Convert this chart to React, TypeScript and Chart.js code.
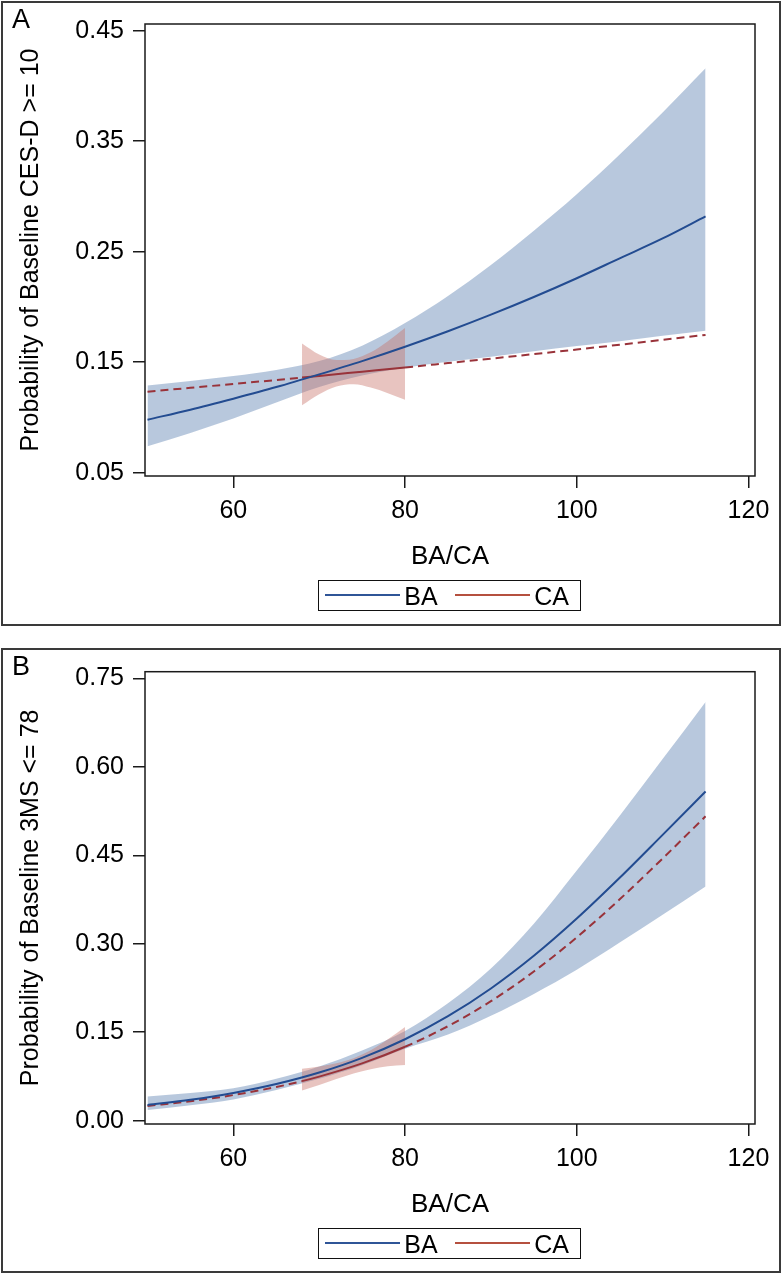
import React, { useEffect, useRef } from "react";
import { Chart, registerables } from "chart.js";

Chart.register(...registerables);

// ---------- data ----------
const BA_X = [50, 55, 60, 65, 70, 75, 80, 85, 90, 95, 100, 105, 110, 115];
const CA_X = [50, 55, 60, 65, 68, 70, 75, 80, 85, 90, 95, 100, 105, 110, 115];
const CA_BAND_X = [68, 70, 72, 74, 76, 78, 80];
const X_TICKS = [60, 80, 100, 120];

// Panel A: CES-D >= 10
const A_Y_TICKS = [0.05, 0.15, 0.25, 0.35, 0.45];
const A_BA = [0.098, 0.107, 0.117, 0.1275, 0.139, 0.151, 0.164, 0.178, 0.193, 0.209, 0.226, 0.244, 0.262, 0.282];
const A_BA_UP = [0.129, 0.133, 0.1375, 0.143, 0.151, 0.165, 0.1855, 0.21, 0.238, 0.269, 0.302, 0.338, 0.376, 0.416];
const A_BA_LO = [0.074, 0.086, 0.099, 0.1135, 0.1275, 0.138, 0.145, 0.1505, 0.155, 0.16, 0.1646, 0.169, 0.174, 0.1785];
const A_CA = [0.1233, 0.1268, 0.1303, 0.1339, 0.1361, 0.1376, 0.1414, 0.1452, 0.1492, 0.1532, 0.1573, 0.1615, 0.1658, 0.1702, 0.1747];
const A_CA_UP = [0.167, 0.157, 0.152, 0.153, 0.159, 0.169, 0.181];
const A_CA_LO = [0.111, 0.121, 0.128, 0.13, 0.127, 0.122, 0.116];

// Panel B: 3MS <= 78
const B_Y_TICKS = [0.0, 0.15, 0.3, 0.45, 0.6, 0.75];
const B_BA = [0.0266, 0.0354, 0.047, 0.0621, 0.0816, 0.1066, 0.1381, 0.1771, 0.2242, 0.2796, 0.3427, 0.4118, 0.4846, 0.558];
const B_BA_UP = [0.041, 0.047, 0.055, 0.071, 0.092, 0.119, 0.152, 0.199, 0.258, 0.334, 0.424, 0.517, 0.613, 0.71];
const B_BA_LO = [0.018, 0.026, 0.036, 0.052, 0.071, 0.094, 0.122, 0.146, 0.178, 0.215, 0.256, 0.302, 0.349, 0.397];
const B_CA = [0.025, 0.033, 0.0435, 0.0571, 0.0671, 0.0747, 0.0971, 0.1253, 0.1602, 0.2026, 0.2529, 0.3108, 0.3753, 0.4445, 0.516];
const B_CA_UP = [0.088, 0.092, 0.0974, 0.106, 0.1195, 0.138, 0.159];
const B_CA_LO = [0.051, 0.0604, 0.0705, 0.08, 0.0872, 0.0923, 0.0944];

// ---------- styles ----------
const FONT = "'Liberation Sans', Arial, Helvetica, sans-serif";
const BLUE_LINE = "#234C91";
const RED_LINE = "#99333A";
const BLUE_BAND = "rgba(113,145,187,0.5)";
const PINK_BAND = "rgba(199,111,101,0.41)";
const LEG_BLUE = "#2F5597";
const LEG_RED = "#B5503F";

const CANVAS_H = 625;
const TICK_SIZE = 25;
const XTITLE_SIZE = 26;

const PANELS = [
  {
    letter: "A",
    top: 0,
    plotTop: 24,
    plotBottom: 476,
    frameTop: 1,
    yTitle: "Probability of Baseline CES-D >= 10",
    yMin: 0.047,
    yMax: 0.4561,
    yTicks: A_Y_TICKS,
    ba: A_BA, baUp: A_BA_UP, baLo: A_BA_LO,
    ca: A_CA, caUp: A_CA_UP, caLo: A_CA_LO,
  },
  {
    letter: "B",
    top: 647,
    plotTop: 24.7,
    plotBottom: 477,
    frameTop: 648,
    yTitle: "Probability of Baseline 3MS <= 78",
    yMin: -0.0056,
    yMax: 0.7612,
    yTicks: B_Y_TICKS,
    ba: B_BA, baUp: B_BA_UP, baLo: B_BA_LO,
    ca: B_CA, caUp: B_CA_UP, caLo: B_CA_LO,
  },
];

const pts = (xs: number[], ys: number[]) => xs.map((x, i) => ({ x, y: ys[i] }));

const framePlugin = {
  id: "frame",
  afterDraw(chart: any) {
    const { ctx, chartArea: a } = chart;
    ctx.save();
    ctx.strokeStyle = "#1a1a1a";
    ctx.lineWidth = 1.5;
    ctx.strokeRect(a.left, a.top, a.right - a.left, a.bottom - a.top);
    ctx.restore();
  },
};

function Panel({ p }: { p: any }) {
  const ref = useRef<HTMLCanvasElement>(null);

  useEffect(() => {
    if (!ref.current) return;
    const xH = CANVAS_H - p.plotBottom;
    const obsMin = CA_BAND_X[0];
    const obsMax = CA_BAND_X[CA_BAND_X.length - 1];
    const hidden = { borderColor: "rgba(0,0,0,0)", borderWidth: 0, pointRadius: 0, cubicInterpolationMode: "monotone" };
    const gridOpts = {
      display: true,
      drawOnChartArea: false,
      drawTicks: true,
      tickLength: 12,
      tickColor: "#1a1a1a",
      tickWidth: 1.5,
      lineWidth: 1.5,
      color: "#1a1a1a",
    };
    const chart = new Chart(ref.current, {
      type: "line",
      data: {
        datasets: [
          { ...hidden, data: pts(BA_X, p.baUp), fill: "+1", backgroundColor: BLUE_BAND, order: 5 },
          { ...hidden, data: pts(BA_X, p.baLo), fill: false, order: 4 },
          { ...hidden, data: pts(CA_BAND_X, p.caUp), fill: "+1", backgroundColor: PINK_BAND, order: 3 },
          { ...hidden, data: pts(CA_BAND_X, p.caLo), fill: false, order: 2 },
          {
            data: pts(CA_X, p.ca),
            borderColor: RED_LINE,
            borderWidth: 2,
            pointRadius: 0,
            fill: false,
            cubicInterpolationMode: "monotone",
            segment: {
              borderDash: (c: any) => (c.p0.parsed.x >= obsMin && c.p1.parsed.x <= obsMax ? [] : [8, 5]),
            },
            order: 1,
          },
          {
            data: pts(BA_X, p.ba),
            borderColor: BLUE_LINE,
            borderWidth: 2,
            pointRadius: 0,
            fill: false,
            cubicInterpolationMode: "monotone",
            order: 0,
          },
        ] as any,
      },
      options: {
        animation: false,
        responsive: false,
        maintainAspectRatio: false,
        events: [],
        layout: { padding: { top: p.plotTop, right: 29, left: 0, bottom: 0 } },
        plugins: { legend: { display: false }, tooltip: { enabled: false } },
        scales: {
          x: {
            type: "linear",
            min: 49.71,
            max: 120.76,
            afterBuildTicks: (s: any) => {
              s.ticks = X_TICKS.map((v) => ({ value: v }));
            },
            afterFit: (s: any) => {
              s.height = xH;
            },
            grid: gridOpts,
            border: { display: false },
            ticks: {
              color: "#000",
              font: { size: TICK_SIZE, family: FONT },
              padding: 8,
              maxRotation: 0,
              autoSkip: false,
              callback: (v: any) => String(v),
            },
            title: {
              display: true,
              text: "BA/CA",
              color: "#000",
              font: { size: XTITLE_SIZE, family: FONT },
              padding: { top: 0, bottom: xH - 80.8 - XTITLE_SIZE * 0.6 },
            },
          },
          y: {
            type: "linear",
            min: p.yMin,
            max: p.yMax,
            afterBuildTicks: (s: any) => {
              s.ticks = p.yTicks.map((v: number) => ({ value: v }));
            },
            afterFit: (s: any) => {
              s.width = 145;
            },
            grid: gridOpts,
            border: { display: false },
            ticks: {
              color: "#000",
              font: { size: TICK_SIZE, family: FONT },
              padding: 9,
              autoSkip: false,
              callback: (v: any) => Number(v).toFixed(2),
            },
            title: {
              display: true,
              text: p.yTitle,
              color: "#000",
              font: { size: 25, family: FONT },
              padding: { top: 16.5, bottom: 0 },
            },
          },
        },
      } as any,
      plugins: [framePlugin],
    });
    return () => chart.destroy();
  }, []);

  const legendTop = p.top + p.plotBottom + 103.6;
  const textStyle: React.CSSProperties = {
    position: "absolute",
    top: 1.5,
    height: 28.7,
    lineHeight: "28.7px",
    fontSize: 25,
    color: "#000",
    whiteSpace: "nowrap",
  };

  return (
    <>
      <canvas
        ref={ref}
        width={784}
        height={CANVAS_H}
        style={{ position: "absolute", left: 0, top: p.top, width: 784, height: CANVAS_H }}
      />
      <div
        style={{
          position: "absolute",
          left: 1,
          top: p.frameTop,
          width: 780,
          height: 625,
          border: "2px solid #3a3a3a",
          boxSizing: "border-box",
          pointerEvents: "none",
        }}
      />
      <div
        style={{
          position: "absolute",
          left: 12,
          top: p.frameTop + 4.5,
          fontSize: 27,
          lineHeight: "27px",
          color: "#000",
        }}
      >
        {p.letter}
      </div>
      <div
        style={{
          position: "absolute",
          left: 318.3,
          top: legendTop,
          width: 262.4,
          height: 31.7,
          border: "1.5px solid #111",
          boxSizing: "border-box",
          background: "#fff",
        }}
      >
        <div style={{ position: "absolute", left: 6.2, top: 13.9, width: 75, height: 2, background: LEG_BLUE }} />
        <span style={{ ...textStyle, left: 85 }}>BA</span>
        <div style={{ position: "absolute", left: 135.9, top: 13.9, width: 75, height: 2, background: LEG_RED }} />
        <span style={{ ...textStyle, left: 215 }}>CA</span>
      </div>
    </>
  );
}

export default function App() {
  return (
    <div
      style={{
        position: "absolute",
        left: 0,
        top: 0,
        width: 784,
        height: 1275,
        background: "#fff",
        fontFamily: FONT,
        overflow: "hidden",
      }}
    >
      {PANELS.map((p) => (
        <Panel key={p.letter} p={p} />
      ))}
    </div>
  );
}
